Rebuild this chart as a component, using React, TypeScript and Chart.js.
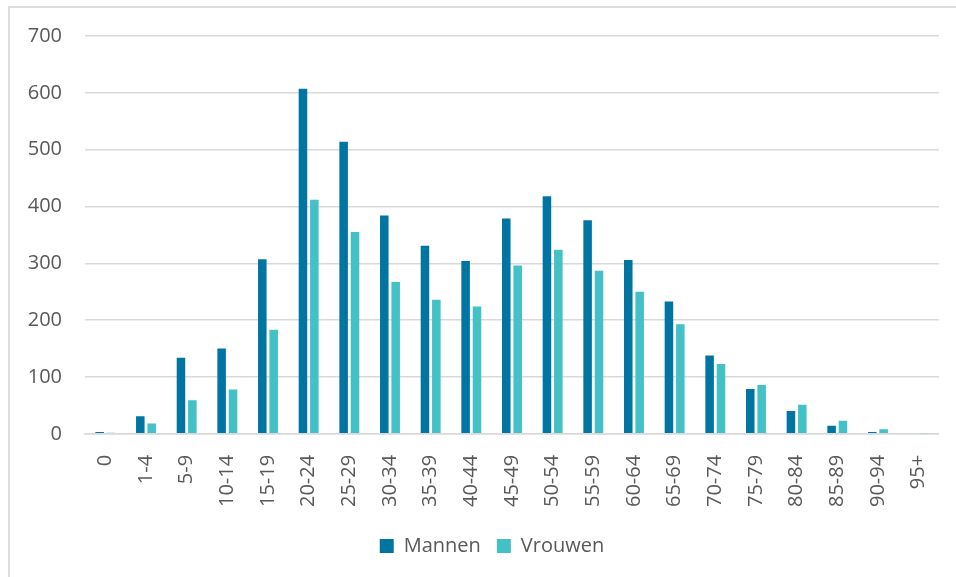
import React, { useEffect, useRef } from "react";
import { Chart, registerables } from "chart.js";

Chart.register(...registerables);

const categories = [
  "0", "1-4", "5-9", "10-14", "15-19", "20-24", "25-29", "30-34", "35-39", "40-44",
  "45-49", "50-54", "55-59", "60-64", "65-69", "70-74", "75-79", "80-84", "85-89", "90-94", "95+",
];
const mannen = [3, 31, 134, 150, 307, 607, 514, 384, 331, 304, 379, 418, 376, 306, 233, 138, 79, 40, 14, 3, 0];
const vrouwen = [2, 18, 59, 78, 183, 412, 355, 267, 236, 224, 296, 324, 287, 250, 193, 123, 86, 51, 23, 8, 1];
const yTicks = [0, 100, 200, 300, 400, 500, 600, 700];

const FONT = "'Open Sans', 'DejaVu Sans', sans-serif";

const shiftLegend = {
  id: "shiftLegend",
  afterLayout(chart: any) {
    const l = chart.legend;
    if (l) {
      l.left += 22;
      l.right += 22;
    }
  },
};

export default function App() {
  const ref = useRef<HTMLCanvasElement | null>(null);
  useEffect(() => {
    if (!ref.current) return;
    const chart = new Chart(ref.current, {
      type: "bar",
      data: {
        labels: categories,
        datasets: [
          { label: "Mannen", data: mannen, backgroundColor: "#0075A2" },
          { label: "Vrouwen", data: vrouwen, backgroundColor: "#43C1C7" },
        ],
      },
      plugins: [shiftLegend],
      options: {
        animation: false,
        responsive: false,
        maintainAspectRatio: false,
        layout: { padding: { left: 0, right: 16, top: 36, bottom: 11 } },
        datasets: { bar: { categoryPercentage: 0.56, barPercentage: 0.75 } },
        plugins: {
          legend: {
            position: "bottom",
            labels: {
              boxWidth: 14,
              boxHeight: 14,
              padding: 16,
              color: "#595959",
              font: { family: FONT, size: 20 },
            },
          },
          tooltip: { enabled: false },
          title: { display: false },
        },
        scales: {
          x: {
            grid: { display: false },
            border: { display: true, color: "#d9d9d9", width: 1.5 },
            ticks: {
              autoSkip: false,
              minRotation: 90,
              maxRotation: 90,
              padding: 13,
              color: "#595959",
              font: { family: FONT, size: 20 },
            },
          },
          y: {
            min: 0,
            max: 700,
            afterFit: (s: any) => {
              s.width = 85;
            },
            afterBuildTicks: (s: any) => {
              s.ticks = yTicks.map((v) => ({ value: v }));
            },
            grid: { color: "#d9d9d9", lineWidth: 1.5, drawTicks: false },
            border: { display: false },
            ticks: {
              padding: 23,
              color: "#595959",
              font: { family: FONT, size: 20 },
            },
          },
        },
      },
    });
    return () => chart.destroy();
  }, []);
  return (
    <div
      style={{
        position: "fixed",
        left: 0,
        top: 0,
        width: 956,
        height: 577,
        overflow: "hidden",
        background: "#ffffff",
      }}
    >
      <canvas
        ref={ref}
        width={956}
        height={577}
        style={{ position: "absolute", left: 0, top: 0, width: 956, height: 577, zIndex: 1 }}
      />
      <div
        style={{
          position: "absolute",
          left: 8,
          top: 6,
          width: 1000,
          height: 620,
          border: "2px solid #dcdcdc",
          boxSizing: "border-box",
          pointerEvents: "none",
          zIndex: 2,
        }}
      />
    </div>
  );
}
